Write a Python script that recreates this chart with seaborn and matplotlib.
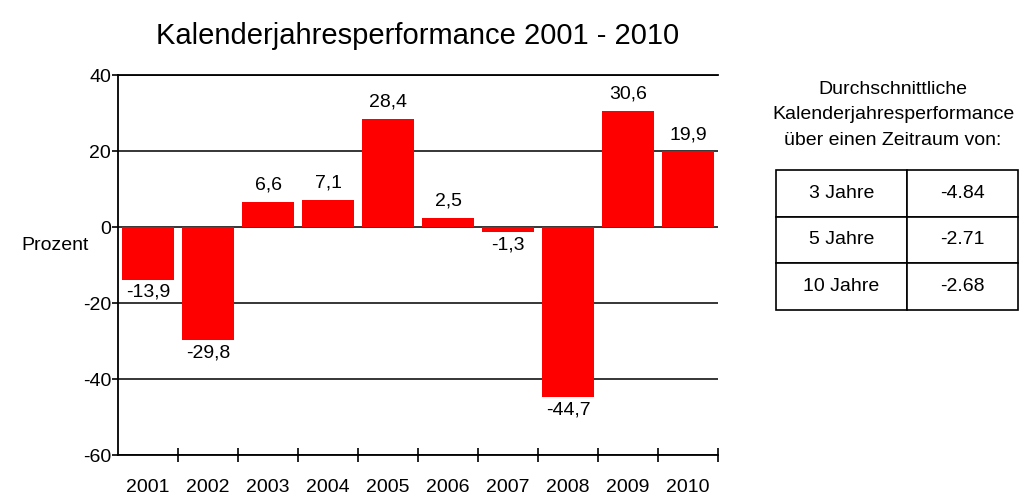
import seaborn as sns
import matplotlib
matplotlib.use('Agg')
import matplotlib.pyplot as plt
from matplotlib.ticker import FixedLocator

years = ['2001', '2002', '2003', '2004', '2005', '2006', '2007', '2008', '2009', '2010']
performance = [-13.9, -29.8, 6.6, 7.1, 28.4, 2.5, -1.3, -44.7, 30.6, 19.9]
periods = ['3 Jahre', '5 Jahre', '10 Jahre']
avg_perf = ['-4.84', '-2.71', '-2.68']
y_ticks = [-60, -40, -20, 0, 20, 40]

sns.set_style('white')
plt.rcParams['font.family'] = ['Liberation Sans', 'DejaVu Sans']
plt.rcParams['axes.unicode_minus'] = False
for k in ['text.color', 'axes.labelcolor', 'xtick.color', 'ytick.color']:
    plt.rcParams[k] = 'black'

fig = plt.figure(figsize=(10.28, 4.95), dpi=100)
ax = fig.add_axes([118/1028, 40/495, 600/1028, 380/495])

sns.barplot(x=years, y=performance, color='#ff0000', saturation=1, width=0.86,
            linewidth=0, edgecolor='none', ax=ax)

ax.set_ylim(-60, 40)
ax.set_xlim(-0.5, 9.5)
ax.set_yticks(y_ticks)
ax.set_axisbelow(True)
ax.yaxis.grid(True, color='black', linewidth=1.1)
ax.xaxis.grid(False)
for s in ['left', 'bottom', 'top']:
    ax.spines[s].set_color('black')
    ax.spines[s].set_linewidth(1.3)
ax.spines['right'].set_visible(False)

ax.tick_params(axis='y', direction='out', length=4, width=1.2, labelsize=14, pad=1, left=True)
ax.tick_params(axis='x', which='major', length=0, labelsize=14, pad=17)
ax.xaxis.set_minor_locator(FixedLocator([i + 0.5 for i in range(len(years))]))
ax.tick_params(axis='x', which='minor', direction='inout', length=10, width=1.2, bottom=True)

for i, v in enumerate(performance):
    txt = str(v).replace('.', ',')
    if v >= 0:
        ax.annotate(txt, (i, v), xytext=(0, 6), textcoords='offset points',
                    ha='center', va='bottom', fontsize=14)
    else:
        ax.annotate(txt, (i, v), xytext=(0, -3), textcoords='offset points',
                    ha='center', va='top', fontsize=14)

ax.set_ylabel('Prozent', rotation=0, ha='center', va='center', fontsize=14)
ax.yaxis.set_label_coords(-63/600, (455-245)/380)
ax.set_xlabel('')
ax.set_title('Kalenderjahresperformance 2001 - 2010', fontsize=21, pad=22)

fig.text(893/1028, 1 - 115/495, 'Durchschnittliche\nKalenderjahresperformance\nüber einen Zeitraum von:',
         ha='center', va='center', fontsize=14, linespacing=1.65)

tax = fig.add_axes([776/1028, 185/495, 242/1028, 140/495])
tax.axis('off')
tbl = tax.table(cellText=[[p, a] for p, a in zip(periods, avg_perf)],
                cellLoc='center', bbox=[0, 0, 1, 1], colWidths=[131/242, 111/242])
tbl.auto_set_font_size(False)
tbl.set_fontsize(14)
for (r, c), cell in tbl.get_celld().items():
    cell.set_linewidth(1.2)
    cell.set_edgecolor('black')

fig.savefig('out.png', dpi=100)
